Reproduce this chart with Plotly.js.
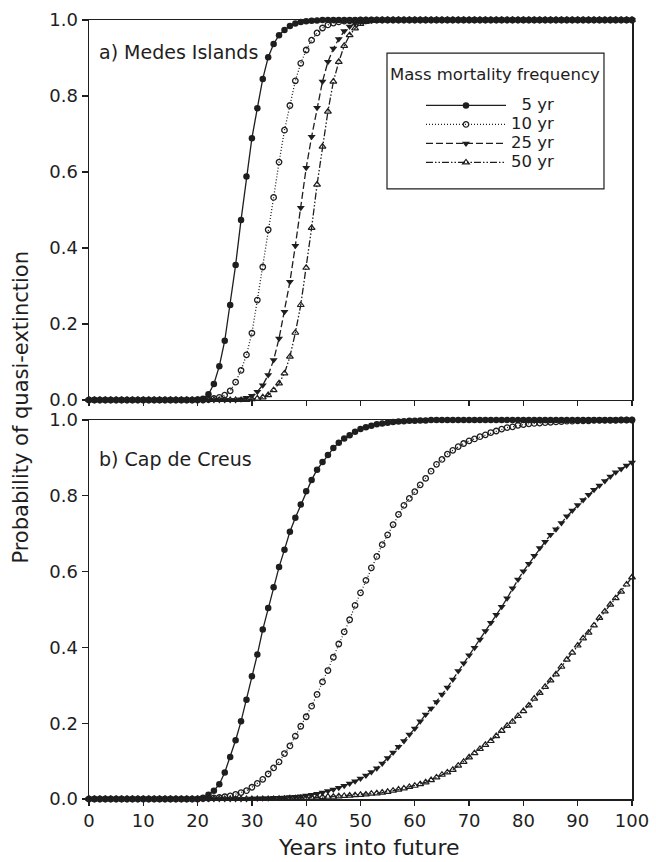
<!DOCTYPE html>
<html>
<head>
<meta charset="utf-8">
<script src="https://cdn.plot.ly/plotly-3.0.1.min.js"></script>
<style>html,body{margin:0;padding:0;background:#fff;}#chart{width:656px;height:862px;}</style>
</head>
<body>
<div id="chart"></div>
<script>
// Years into future
const years = [
  0,1,2,3,4,5,6,7,8,9,
  10,11,12,13,14,15,16,17,18,19,
  20,21,22,23,24,25,26,27,28,29,
  30,31,32,33,34,35,36,37,38,39,
  40,41,42,43,44,45,46,47,48,49,
  50,51,52,53,54,55,56,57,58,59,
  60,61,62,63,64,65,66,67,68,69,
  70,71,72,73,74,75,76,77,78,79,
  80,81,82,83,84,85,86,87,88,89,
  90,91,92,93,94,95,96,97,98,99,
  100];

const seriesNames = ['\u20075 yr', '10 yr', '25 yr', '50 yr'];
const panelLabels = ['a) Medes Islands', 'b) Cap de Creus'];
const legendTitle = 'Mass mortality frequency';
const xTitle = 'Years into future';
const yTitle = 'Probability of quasi-extinction';

// a) Medes Islands
const medes5 = [
  0,0,0,0,0,0,0,0,0,0,
  0,0,0,0,0,0,0,0,0,0,
  0.001,0.003,0.015,0.042,0.089,0.156,0.250,0.355,0.474,0.588,
  0.689,0.768,0.845,0.902,0.937,0.960,0.974,0.984,0.991,0.995,
  0.997,0.998,0.999,1,1,1,1,1,1,1,
  1,1,1,1,1,1,1,1,1,1,
  1,1,1,1,1,1,1,1,1,1,
  1,1,1,1,1,1,1,1,1,1,
  1,1,1,1,1,1,1,1,1,1,
  1,1,1,1,1,1,1,1,1,1,
  1];
const medes10 = [
  0,0,0,0,0,0,0,0,0,0,
  0,0,0,0,0,0,0,0,0,0,
  0,0,0.001,0.004,0.007,0.013,0.024,0.047,0.078,0.119,
  0.176,0.263,0.350,0.448,0.533,0.626,0.710,0.775,0.840,0.886,
  0.921,0.947,0.966,0.979,0.987,0.992,0.995,0.997,0.998,0.999,
  1,1,1,1,1,1,1,1,1,1,
  1,1,1,1,1,1,1,1,1,1,
  1,1,1,1,1,1,1,1,1,1,
  1,1,1,1,1,1,1,1,1,1,
  1,1,1,1,1,1,1,1,1,1,
  1];
const medes25 = [
  0,0,0,0,0,0,0,0,0,0,
  0,0,0,0,0,0,0,0,0,0,
  0,0,0,0,0,0,0,0,0.002,0.006,
  0.011,0.022,0.039,0.066,0.105,0.162,0.232,0.311,0.406,0.506,
  0.611,0.693,0.769,0.838,0.890,0.925,0.950,0.971,0.983,0.991,
  0.995,0.997,0.999,1,1,1,1,1,1,1,
  1,1,1,1,1,1,1,1,1,1,
  1,1,1,1,1,1,1,1,1,1,
  1,1,1,1,1,1,1,1,1,1,
  1,1,1,1,1,1,1,1,1,1,
  1];
const medes50 = [
  0,0,0,0,0,0,0,0,0,0,
  0,0,0,0,0,0,0,0,0,0,
  0,0,0,0,0,0,0,0,0,0,
  0.002,0.004,0.007,0.013,0.026,0.044,0.070,0.114,0.177,0.250,
  0.348,0.453,0.567,0.667,0.759,0.838,0.890,0.932,0.960,0.978,
  0.990,0.995,0.998,0.999,1,1,1,1,1,1,
  1,1,1,1,1,1,1,1,1,1,
  1,1,1,1,1,1,1,1,1,1,
  1,1,1,1,1,1,1,1,1,1,
  1,1,1,1,1,1,1,1,1,1,
  1];

// b) Cap de Creus
const creus5 = [
  0,0,0,0,0,0,0,0,0,0,
  0,0,0,0,0,0,0,0,0,0,
  0,0.003,0.011,0.022,0.039,0.070,0.111,0.155,0.205,0.262,
  0.324,0.381,0.447,0.504,0.559,0.612,0.658,0.705,0.742,0.777,
  0.812,0.842,0.869,0.889,0.908,0.926,0.940,0.951,0.960,0.969,
  0.976,0.981,0.985,0.989,0.991,0.993,0.995,0.996,0.997,0.998,
  0.998,0.999,0.999,1,1,1,1,1,1,1,
  1,1,1,1,1,1,1,1,1,1,
  1,1,1,1,1,1,1,1,1,1,
  1,1,1,1,1,1,1,1,1,1,
  1];
const creus10 = [
  0,0,0,0,0,0,0,0,0,0,
  0,0,0,0,0,0,0,0,0,0,
  0,0.001,0.002,0.003,0.004,0.006,0.008,0.012,0.017,0.022,
  0.031,0.041,0.052,0.066,0.082,0.098,0.120,0.140,0.166,0.192,
  0.217,0.245,0.276,0.309,0.339,0.374,0.409,0.441,0.473,0.511,
  0.544,0.577,0.610,0.640,0.671,0.697,0.724,0.751,0.775,0.793,
  0.811,0.829,0.846,0.865,0.883,0.896,0.910,0.920,0.930,0.938,
  0.945,0.950,0.956,0.961,0.967,0.971,0.976,0.980,0.982,0.986,
  0.988,0.990,0.991,0.992,0.993,0.994,0.995,0.996,0.997,0.997,
  0.998,0.998,0.998,0.999,0.999,0.999,0.999,0.999,1,1,
  1];
const creus25 = [
  0,0,0,0,0,0,0,0,0,0,
  0,0,0,0,0,0,0,0,0,0,
  0,0,0,0,0,0,0,0,0,0,
  0.001,0.001,0.002,0.002,0.003,0.003,0.004,0.005,0.006,0.007,
  0.009,0.011,0.014,0.017,0.021,0.025,0.030,0.035,0.041,0.047,
  0.054,0.062,0.071,0.081,0.094,0.108,0.123,0.138,0.153,0.170,
  0.186,0.205,0.223,0.239,0.256,0.276,0.294,0.315,0.338,0.358,
  0.379,0.399,0.421,0.443,0.465,0.486,0.507,0.530,0.556,0.579,
  0.601,0.621,0.642,0.662,0.679,0.697,0.712,0.728,0.746,0.761,
  0.776,0.789,0.803,0.816,0.827,0.839,0.851,0.862,0.871,0.880,
  0.888];
const creus50 = [
  0,0,0,0,0,0,0,0,0,0,
  0,0,0,0,0,0,0,0,0,0,
  0,0,0,0,0,0,0,0,0,0,
  0,0,0,0,0,0.001,0.001,0.002,0.002,0.003,
  0.003,0.004,0.004,0.005,0.006,0.006,0.007,0.008,0.009,0.010,
  0.011,0.012,0.014,0.015,0.017,0.019,0.022,0.025,0.028,0.032,
  0.035,0.039,0.044,0.050,0.057,0.064,0.070,0.077,0.088,0.098,
  0.110,0.121,0.132,0.143,0.153,0.166,0.180,0.193,0.204,0.219,
  0.232,0.247,0.265,0.280,0.296,0.313,0.329,0.349,0.368,0.386,
  0.405,0.424,0.439,0.458,0.478,0.495,0.513,0.530,0.547,0.566,
  0.585];

const INK = '#1e1e1e';
const FONT = 'DejaVu Sans, Liberation Sans, Arial, sans-serif';

const styles = [
  {dash: 'solid', marker: {symbol: 'circle', size: 6.5, color: INK, line: {width: 0}}},
  {dash: '1px,2px', marker: {symbol: 'circle-open', size: 5.5, color: INK, line: {width: 1.3, color: INK}}},
  {dash: '7px,3px', marker: {symbol: 'triangle-down', size: 7, color: INK, line: {width: 0}}},
  {dash: '7px,2px,1.5px,2px,1.5px,2px', marker: {symbol: 'triangle-up-open', size: 6, color: INK, line: {width: 1.2, color: INK}}}
];

const panelA = [medes5, medes10, medes25, medes50];
const panelB = [creus5, creus10, creus25, creus50];

const traces = [];
panelA.forEach((vals, i) => {
  traces.push({
    x: years, y: vals, xaxis: 'x2', yaxis: 'y2', type: 'scatter', mode: 'lines+markers',
    name: '<span style="font-size:16.5px">' + seriesNames[i] + '</span>',
    legendgroup: 'g' + i, showlegend: true, cliponaxis: false,
    line: {color: INK, width: 1.3, dash: styles[i].dash},
    marker: styles[i].marker
  });
});
panelB.forEach((vals, i) => {
  traces.push({
    x: years, y: vals, xaxis: 'x', yaxis: 'y', type: 'scatter', mode: 'lines+markers',
    name: seriesNames[i], legendgroup: 'g' + i, showlegend: false, cliponaxis: false,
    line: {color: INK, width: 1.3, dash: styles[i].dash},
    marker: styles[i].marker
  });
});

const axisCommon = {
  range: [0, 100], dtick: 10, tick0: 0, ticks: 'outside', ticklen: 5, tickwidth: 1.3, tickcolor: INK,
  showline: true, linecolor: INK, linewidth: 1.5, mirror: true, showgrid: false, zeroline: false,
  tickfont: {family: FONT, size: 18, color: INK}
};
const yCommon = {
  range: [0, 1], dtick: 0.2, tick0: 0, tickformat: '.1f', ticks: 'outside', ticklen: 6, tickwidth: 1.3, tickcolor: INK,
  showline: true, linecolor: INK, linewidth: 1.5, mirror: true, showgrid: false, zeroline: false,
  tickfont: {family: FONT, size: 18, color: INK}
};

const layout = {
  width: 656, height: 862,
  margin: {l: 89, r: 24, t: 20, b: 63, pad: 0},
  paper_bgcolor: '#fff', plot_bgcolor: '#fff',
  font: {family: FONT, color: INK},
  showlegend: true,
  xaxis: Object.assign({}, axisCommon, {anchor: 'y', domain: [0, 1]}),
  xaxis2: Object.assign({}, axisCommon, {anchor: 'y2', domain: [0, 1], matches: 'x', showticklabels: false}),
  yaxis: Object.assign({}, yCommon, {anchor: 'x', domain: [0, 0.4865]}),
  yaxis2: Object.assign({}, yCommon, {anchor: 'x2', domain: [0.5122, 1]}),
  legend: {
    x: 0.6114, y: 0.9089, xanchor: 'left', yanchor: 'top',
    bgcolor: 'rgba(0,0,0,0)', borderwidth: 0,
    font: {family: FONT, size: 12, color: INK},
    itemwidth: 80, tracegroupgap: 0, traceorder: 'normal'
  },
  shapes: [
    {type: 'rect', xref: 'paper', yref: 'paper', x0: 0.5488, x1: 0.9484, y0: 0.7831, y1: 0.9576,
     line: {color: INK, width: 1.2}, fillcolor: 'rgba(0,0,0,0)', layer: 'above'}
  ],
  annotations: [
    {text: legendTitle, xref: 'paper', yref: 'paper', x: 0.7486, y: 0.9294, xanchor: 'center', yanchor: 'middle',
     showarrow: false, font: {family: FONT, size: 16.5, color: INK}},
    {text: panelLabels[0], xref: 'paper', yref: 'paper', x: 0.0147, y: 0.959, xanchor: 'left', yanchor: 'middle',
     showarrow: false, font: {family: FONT, size: 19, color: INK}},
    {text: panelLabels[1], xref: 'paper', yref: 'paper', x: 0.0147, y: 0.4365, xanchor: 'left', yanchor: 'middle',
     showarrow: false, font: {family: FONT, size: 19, color: INK}},
    {text: yTitle, xref: 'paper', yref: 'paper', x: -0.125, y: 0.5026, xanchor: 'center', yanchor: 'middle',
     textangle: -90, showarrow: false, font: {family: FONT, size: 21, color: INK}},
    {text: xTitle, xref: 'paper', yref: 'paper', x: 0.5157, y: -0.0629, xanchor: 'center', yanchor: 'middle',
     showarrow: false, font: {family: FONT, size: 22, color: INK}}
  ]
};

Plotly.newPlot('chart', traces, layout, {staticPlot: true, displayModeBar: false});
</script>
</body>
</html>
